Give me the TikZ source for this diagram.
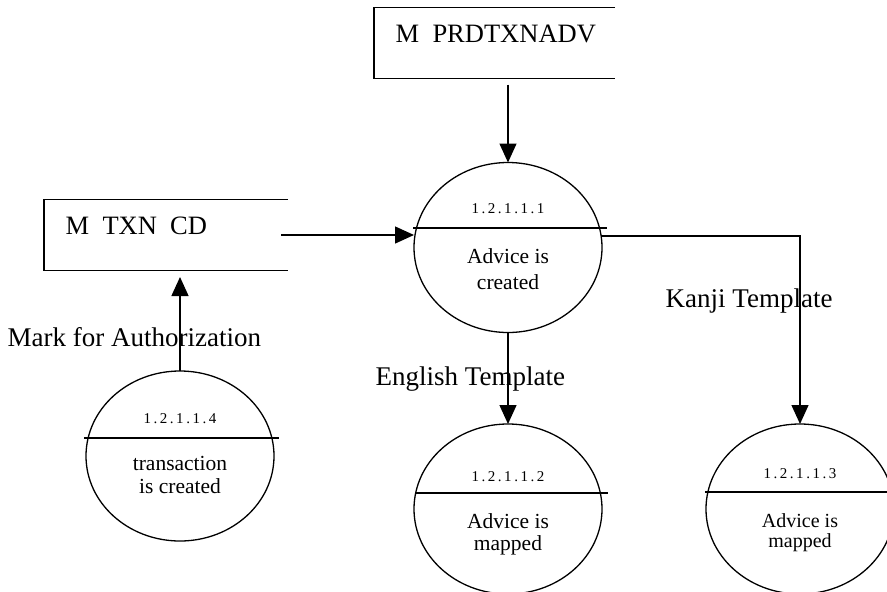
\documentclass[tikz,border=0pt]{standalone}
\usepackage{fontspec}
\setmainfont{Liberation Serif}
\newfontfamily\numfont[LetterSpace=17]{Liberation Serif}
\usetikzlibrary{arrows.meta,shapes.geometric}

\begin{document}
\begin{tikzpicture}[x=1pt,y=-1pt,
  line width=1.4pt,
  store/.style={inner sep=0pt, outer sep=0pt, minimum height=71pt},
  storetext/.style={font=\fontsize{26.5}{27}\selectfont, anchor=base west, inner sep=0pt},
  proc/.style={draw, ellipse, inner sep=0pt, outer sep=0pt,
               minimum width=188pt, minimum height=170pt, line width=1.3pt},
  procnum/.style={font=\numfont\fontsize{15}{15}\selectfont, anchor=base, inner sep=0pt},
  proctext/.style={font=\fontsize{21.5}{25.5}\selectfont, align=center, anchor=base, inner sep=0pt},
  flow/.style={-{Triangle[length=19pt,width=17pt]}},
  lbl/.style={font=\fontsize{27}{27}\selectfont, anchor=base west, inner sep=0pt}]

\useasboundingbox (0,0) rectangle (887,592);
\clip (0,0) rectangle (887,592);

% data stores, open on the right
\node[store, minimum width=241pt] (prd) at (494.5,43) {};
\draw (prd.north east) -- (prd.north west) -- (prd.south west) -- (prd.south east);
\node[storetext] (prdlbl) at (395,42) {M\ \ PRDTXNADV};

\node[store, minimum width=244pt] (txn) at (166,235) {};
\draw (txn.north east) -- (txn.north west) -- (txn.south west) -- (txn.south east);
\node[storetext] (txnlbl) at (65,234) {M\ \ TXN\ \ CD};

% processes
\node[proc] (c1) at (508,247.5) {};
\node[proc] (c2) at (508,509) {};
\node[proc] (c3) at (800,509) {};
\node[proc] (c4) at (180,456) {};

\draw ([shift={(-95pt,19.5pt)}]c1.center) -- ([shift={(99pt,19.5pt)}]c1.center);
\draw ([shift={(-93pt,16pt)}]c2.center) -- ([shift={(100pt,16pt)}]c2.center);
\draw ([shift={(-95pt,17pt)}]c3.center) -- ([shift={(99pt,17pt)}]c3.center);
\draw ([shift={(-96pt,18pt)}]c4.center) -- ([shift={(99pt,18pt)}]c4.center);

% the base anchor of a two-line text is the baseline of its last line
\node[procnum] (n1) at (508,213) {1.2.1.1.1};
\node[proctext] (t1) at (508,289) {Advice is\\created};

\node[procnum] (n2) at (508,481) {1.2.1.1.2};
\node[proctext, font=\fontsize{21.5}{21.5}\selectfont] (t2) at (508,550) {Advice is\\mapped};

\node[procnum] (n3) at (800,478) {1.2.1.1.3};
\node[proctext, font=\fontsize{20}{20}\selectfont] (t3) at (800,547) {Advice is\\mapped};

\node[procnum] (n4) at (180,423) {1.2.1.1.4};
\node[proctext, font=\fontsize{21.5}{23}\selectfont] (t4) at (180,493) {transaction\\is created};

% flows
\draw[flow, shorten <=6pt] (c1.north |- prd.south) -- (c1.north);
\draw[flow, shorten <=-7pt] (txn.east) -- (c1.west |- txn.east);
\draw[flow] (c1.7) -| (c3.north);
\draw[flow] (c1.south) -- (c2.north);
\draw[flow, shorten >=6.5pt] (c4.north) -- (c4.north |- txn.south);

% flow labels
\node[lbl] (lmark) at (7,346) {Mark for Authorization};
\node[lbl] (leng) at (375,385) {English Template};
\node[lbl] (lkanji) at (665,307) {Kanji Template};
\end{tikzpicture}
\end{document}
